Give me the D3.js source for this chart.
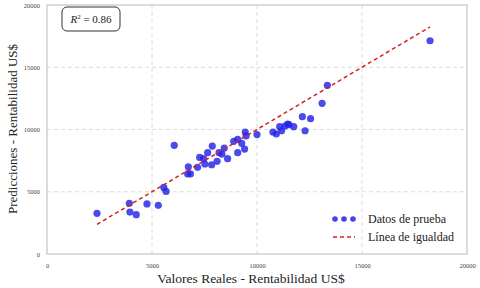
<!DOCTYPE html>
<html>
<head>
<meta charset="utf-8">
<script src="https://cdn.jsdelivr.net/npm/d3@7"></script>
<style>
  body { margin: 0; background: #fff; }
  text { font-family: "Liberation Serif", "Times New Roman", "DejaVu Serif", serif; }
</style>
</head>
<body>
<div id="vis"></div>
<script>
// valores reales (x) y predicciones (y), US$
var actual = [2380, 3920, 3950, 4250, 4760, 5300, 5560, 5670, 6060, 6730, 6700, 6830,
              7170, 7270, 7460, 7520, 7650, 7840, 7870, 8100, 8190, 8330, 8440, 8600,
              8890, 9080, 9080, 9270, 9410, 9440, 9480, 10000, 10760, 10920, 11080, 11170,
              11330, 11460, 11520, 11750, 12160, 12290, 12550, 13100, 13350, 18240];
var predicted = [3270, 4070, 3370, 3160, 4020, 3910, 5350, 5030, 8730, 7010, 6430, 6430,
                 6960, 7760, 7660, 7230, 8140, 7170, 8670, 7440, 8140, 8030, 8510, 7660,
                 9050, 9210, 8140, 8890, 8430, 9800, 9480, 9590, 9800, 9640, 10230, 9900,
                 10280, 10440, 10390, 10230, 11030, 9900, 10870, 12100, 13550, 17130];
var tickValues = [0, 5000, 10000, 15000, 20000];
var r2Value = 0.86;
var legendLabels = ['Datos de prueba', 'Línea de igualdad'];

var width = 480, height = 288;
var margin = {left: 47, right: 13, top: 5, bottom: 34};
var drawWidth = width - margin.left - margin.right,
    drawHeight = height - margin.top - margin.bottom;

var data = actual.map((d, i) => ({x: d, y: predicted[i]}));

var svg = d3.select('#vis').append('svg')
            .attr('width', width)
            .attr('height', height);

var g = svg.append('g')
           .attr('transform', `translate(${margin.left},${margin.top})`);

var xScale = d3.scaleLinear().domain([0, 20000]).range([0, drawWidth]);
var yScale = d3.scaleLinear().domain([0, 20000]).range([drawHeight, 0]);

// grid
g.selectAll('.vgrid')
 .data(tickValues.slice(1, -1))
 .enter().append('line')
 .attr('x1', d => xScale(d)).attr('x2', d => xScale(d))
 .attr('y1', 0).attr('y2', drawHeight)
 .style('stroke', '#dcdcdc').style('stroke-width', 1)
 .style('stroke-dasharray', '4,3');

g.selectAll('.hgrid')
 .data(tickValues.slice(1, -1))
 .enter().append('line')
 .attr('y1', d => yScale(d)).attr('y2', d => yScale(d))
 .attr('x1', 0).attr('x2', drawWidth)
 .style('stroke', '#dcdcdc').style('stroke-width', 1)
 .style('stroke-dasharray', '4,3');

// frame
g.append('rect')
 .attr('width', drawWidth).attr('height', drawHeight)
 .style('fill', 'none').style('stroke', '#cfcfcf').style('stroke-width', 1.5);

// axes
var xAxis = d3.axisBottom(xScale).tickValues(tickValues).tickSize(0).tickPadding(9).tickFormat(d3.format('d'));
var yAxis = d3.axisLeft(yScale).tickValues(tickValues).tickSize(0).tickPadding(7).tickFormat(d3.format('d'));

var xg = g.append('g').attr('transform', `translate(0,${drawHeight})`).call(xAxis);
var yg = g.append('g').call(yAxis);
[xg, yg].forEach(a => {
  a.select('.domain').remove();
  a.selectAll('text')
   .style('font-family', '"Liberation Serif", "Times New Roman", serif')
   .style('font-size', '6.5px')
   .style('fill', '#444');
});

// points
g.selectAll('circle.pt')
 .data(data)
 .enter().append('circle')
 .attr('class', 'pt')
 .attr('cx', d => xScale(d.x))
 .attr('cy', d => yScale(d.y))
 .attr('r', 3.6)
 .style('fill', 'rgb(35,35,230)')
 .style('opacity', 0.82);

// identity line
var lo = d3.min(actual), hi = d3.max(actual);
g.append('line')
 .attr('x1', xScale(lo)).attr('y1', yScale(lo))
 .attr('x2', xScale(hi)).attr('y2', yScale(hi))
 .style('stroke', '#d62020').style('stroke-width', 1.5)
 .style('stroke-dasharray', '4,3');

// R^2 box
var r2 = svg.append('g').attr('transform', 'translate(62,7)');
r2.append('rect')
  .attr('width', 58).attr('height', 24).attr('rx', 5)
  .style('fill', '#fff').style('stroke', '#333').style('stroke-width', 1);
var r2t = r2.append('text')
  .attr('x', 29).attr('y', 16)
  .style('text-anchor', 'middle')
  .style('font-size', '11px')
  .style('fill', '#222');
r2t.append('tspan').style('font-style', 'italic').text('R');
r2t.append('tspan').attr('dy', -4).style('font-size', '7px').text('2');
r2t.append('tspan').attr('dy', 4).text(' = ' + r2Value.toFixed(2));

// legend
var legend = svg.append('g').attr('transform', 'translate(335,0)');
[0, 9, 18].forEach(dx => {
  legend.append('circle')
        .attr('cx', dx).attr('cy', 219).attr('r', 2.8)
        .style('fill', 'rgb(35,35,230)').style('opacity', 0.85);
});
legend.append('line')
      .attr('x1', -2).attr('x2', 20).attr('y1', 237).attr('y2', 237)
      .style('stroke', '#d62020').style('stroke-width', 1.5)
      .style('stroke-dasharray', '4,3');
legend.selectAll('.legend-text')
      .data(legendLabels)
      .enter().append('text')
      .attr('x', 33)
      .attr('y', (d, i) => 219 + i * 18)
      .attr('dy', '.35em')
      .style('font-size', '12px')
      .style('fill', '#222')
      .text(d => d);

// axis titles
svg.append('text')
   .attr('x', 251).attr('y', 283)
   .style('text-anchor', 'middle')
   .style('font-size', '13.5px')
   .style('fill', '#222')
   .text('Valores Reales - Rentabilidad US$');

svg.append('text')
   .attr('transform', `translate(17,129) rotate(-90)`)
   .style('text-anchor', 'middle')
   .style('font-size', '13px')
   .style('fill', '#222')
   .text('Predicciones - Rentabilidad US$');
</script>
</body>
</html>
